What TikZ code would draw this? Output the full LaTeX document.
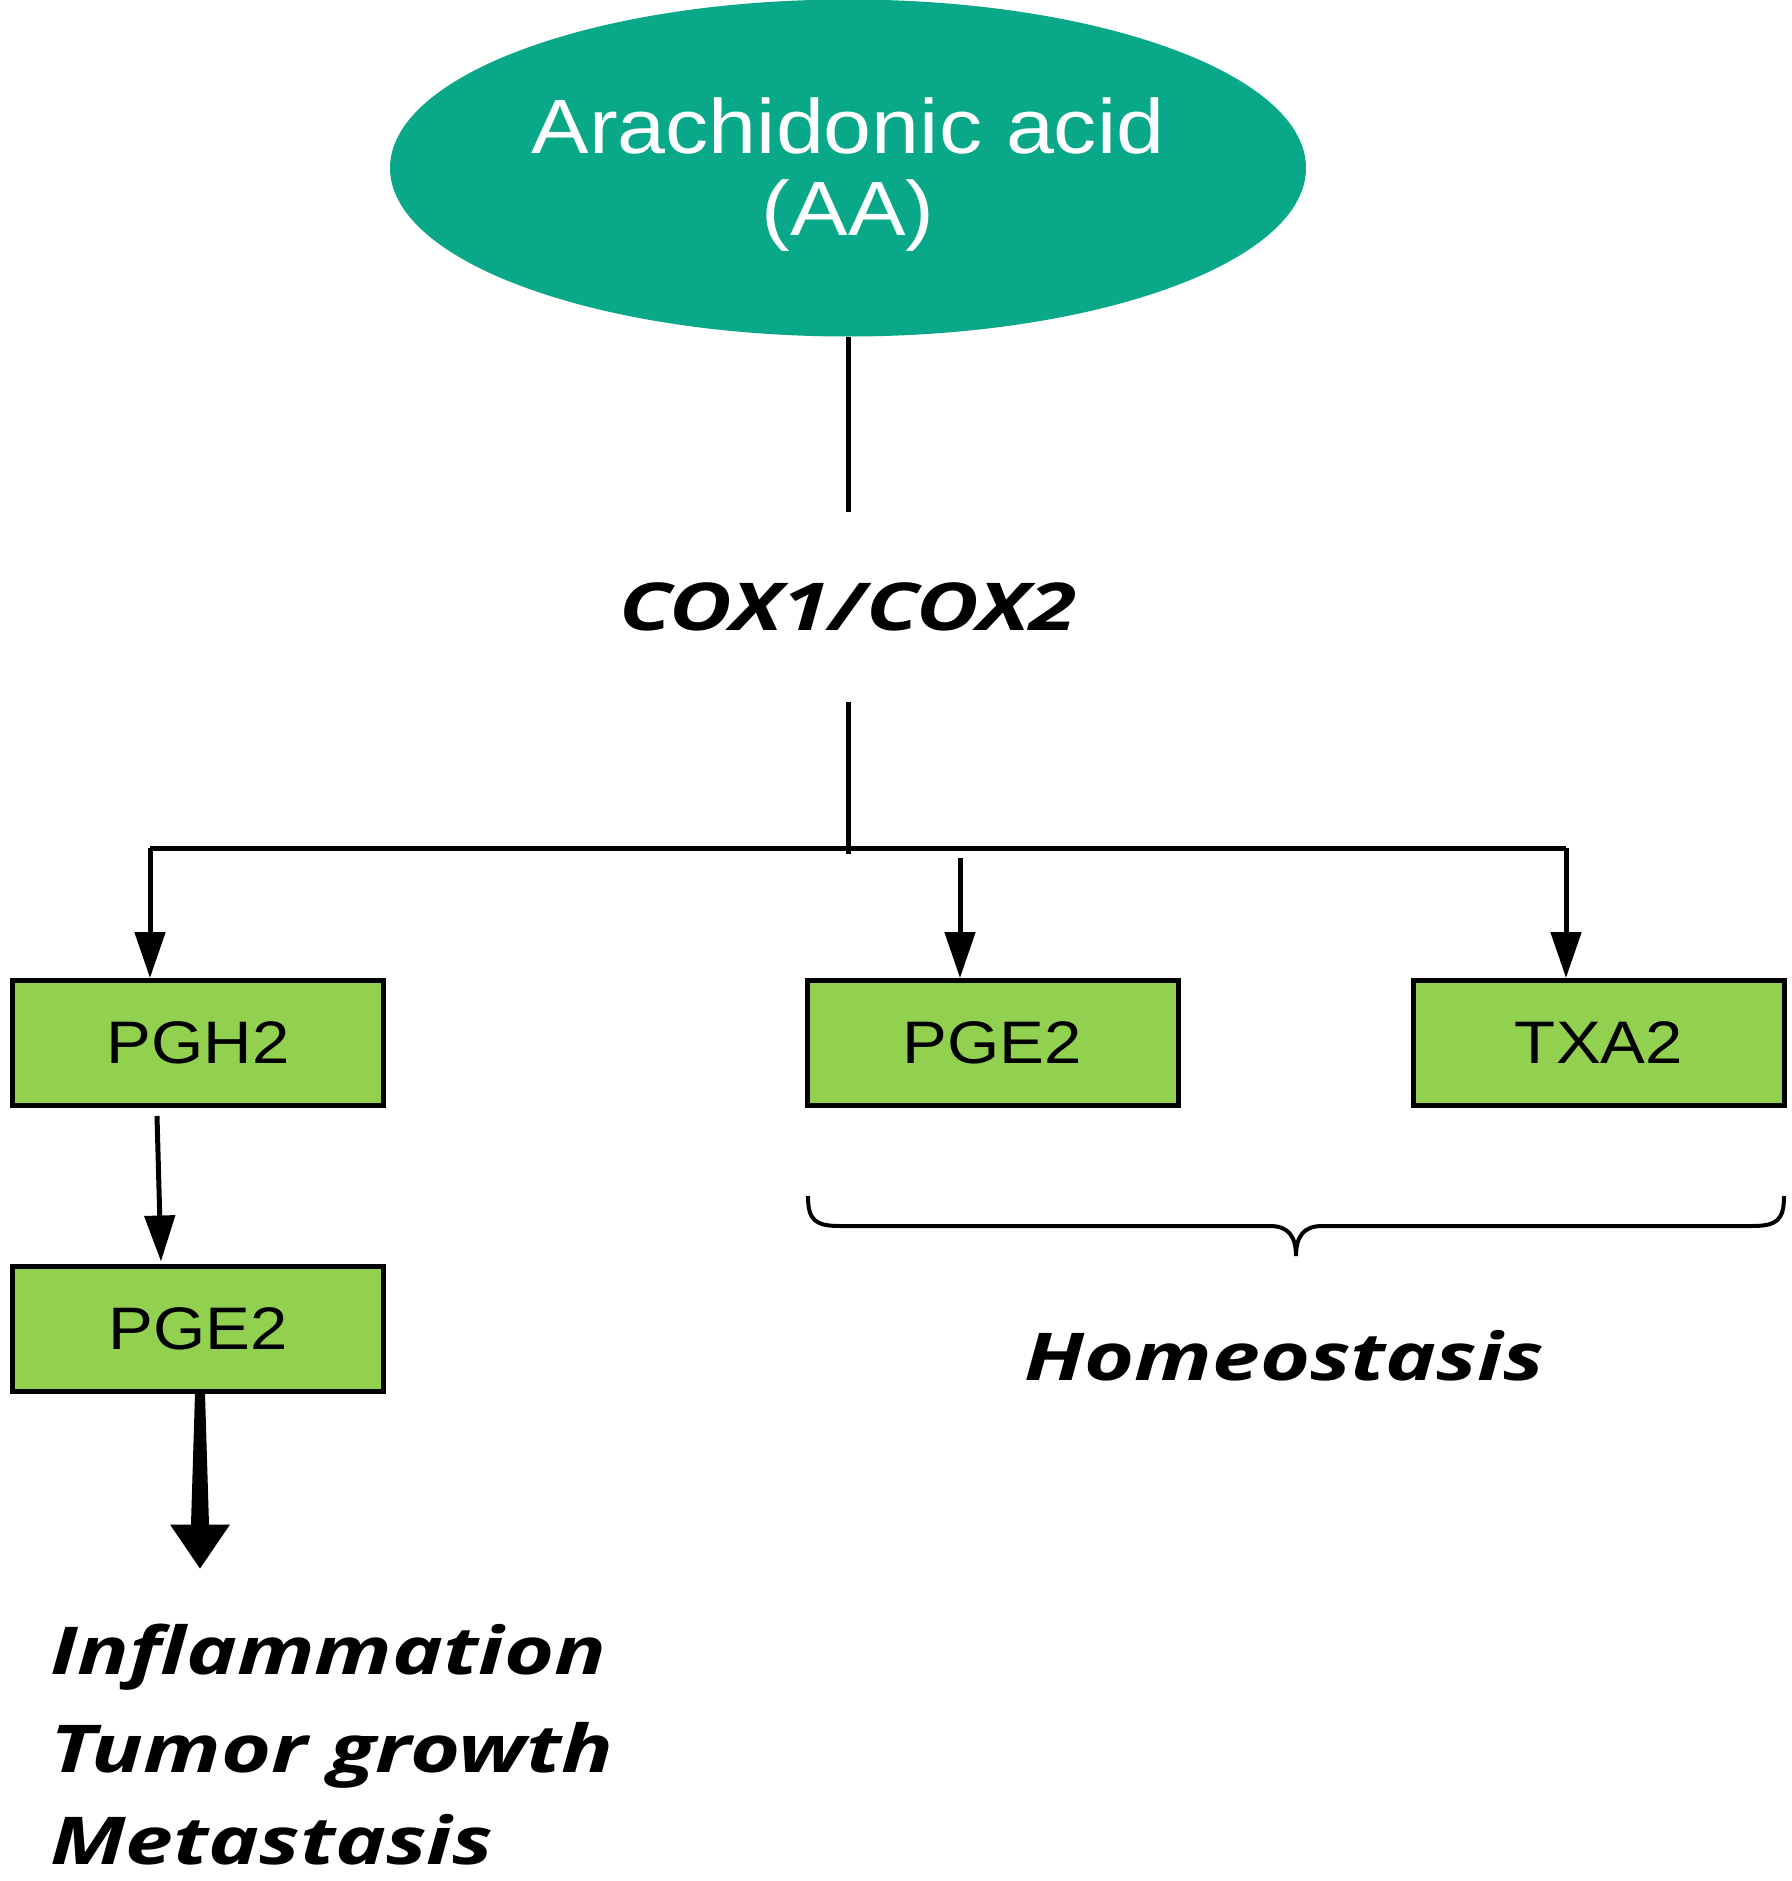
\documentclass[tikz,border=0pt]{standalone}
\usepackage{fontspec}
\setmainfont{Liberation Sans}
\newfontfamily\boxfont[FakeStretch=1.12]{Liberation Sans}
\newfontfamily\labfont[FakeStretch=1.3]{Open Sans}
\usetikzlibrary{arrows.meta,shapes.geometric,positioning,calc}
\definecolor{aateal}{RGB}{8,168,136}
\definecolor{boxgreen}{RGB}{146,208,80}
\tikzstyle{el} = [ellipse, fill=aateal, text=white, align=center, inner sep=0pt, minimum width=916pt, minimum height=337pt, font=\boxfont\fontsize{77}{82}\selectfont]
\tikzstyle{gb} = [rectangle, fill=boxgreen, draw=black, line width=5pt, inner sep=0pt, minimum width=371pt, minimum height=125pt, font=\boxfont\fontsize{60}{66}\selectfont]
\tikzstyle{it} = [inner sep=0pt, font=\labfont\bfseries\itshape\fontsize{66}{100}\selectfont]
\tikzstyle{ar} = [-{Triangle[width=30pt,length=46pt]}, line width=5pt]
\tikzstyle{ln} = [line width=5pt]

\begin{document}
\begin{tikzpicture}[x=1pt,y=-1pt]
		\useasboundingbox (0,0) rectangle (1791,1881);

		\node[el] (aa) at (848,168) {\rule{0pt}{68pt}Arachidonic acid\\(AA)};
		\node[it, minimum height=190pt] (cox) at (848,607) {COX1/COX2};

		\node[gb] (pgh)  at (198,1043)   {PGH2};
		\node[gb] (pge)  at (992.5,1043) {PGE2};
		\node[gb] (txa)  at (1599,1043)  {TXA2};
		\node[gb] (pgeb) at (198,1328.5) {PGE2};

		\coordinate (fork) at (848,854);
		\coordinate (lend) at (150,848);
		\coordinate (rend) at (1566,848);
		\coordinate (mtop) at (960,858);

		\draw[ln] (aa) -- (cox);
		\draw[ln] (cox.south) -- (fork);
		\draw[ln] (lend) -- (rend);
		\draw[ar] (lend) -- (pgh.north -| lend);
		\draw[ar] (mtop) -- (pge.north -| mtop);
		\draw[ar] (rend) -- (rend |- txa.north);
		\draw[ar] ($(pgh.south)+(-41,8)$) -- ($(pgeb.north)+(-37,-2)$);

		% thick arrow to the effects
		\fill ($(pgeb.south)+(-3,0)$) -- ++(10,0) -- ++(4,131) -- ++(21,0) -- ++(-30,44) -- ++(-30,-44) -- ++(21,0) -- cycle;

		% brace under PGE2 / TXA2
		\draw[line width=4pt] (808,1196) .. controls (808,1220) and (815,1226) .. (840,1226) -- (1270,1226)
			.. controls (1288,1226) and (1296,1236) .. (1296,1256)
			.. controls (1296,1236) and (1304,1226) .. (1322,1226) -- (1752,1226)
			.. controls (1777,1226) and (1784,1220) .. (1784,1196);

		\node[it, anchor=base] (homeo) at (1284,1380) {Homeostasis};

		\node[it, anchor=base west] (infl)  at (50,1674) {Inflammation};
		\node[it, anchor=base west] (tumor) at (50,1772) {Tumor growth};
		\node[it, anchor=base west] (meta)  at (50,1864) {Metastasis};
	\end{tikzpicture}
\end{document}
